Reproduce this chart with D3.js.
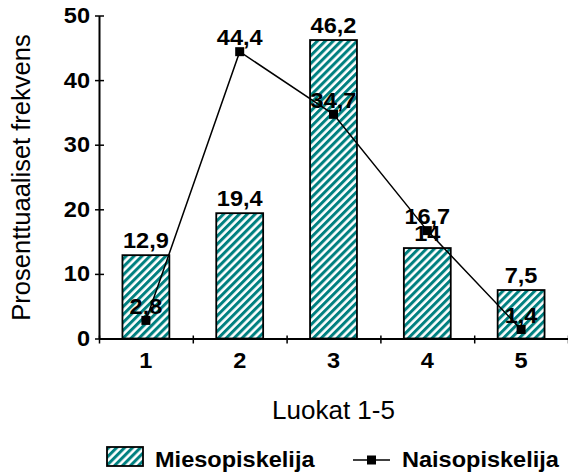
<!DOCTYPE html>
<html>
<head>
<meta charset="utf-8">
<script src="https://cdnjs.cloudflare.com/ajax/libs/d3/7.8.5/d3.min.js"></script>
<style>
  html, body { margin: 0; padding: 0; background: #fff; }
  svg { display: block; }
  text { font-family: "Liberation Sans", Arial, sans-serif; fill: #000; }
</style>
</head>
<body>
<svg id="chart" width="568" height="475"></svg>
<script>
// Luokkien jakauma sukupuolen mukaan
const categories = ["1", "2", "3", "4", "5"];
const miesValues = [12.9, 19.4, 46.2, 14, 7.5];
const naisValues = [2.8, 44.4, 34.7, 16.7, 1.4];
const yTicks = [0, 10, 20, 30, 40, 50];
const seriesNames = ["Miesopiskelija", "Naisopiskelija"];
const yTitle = "Prosenttuaaliset frekvens";
const xTitle = "Luokat 1-5";

const teal = "#008080";
const fmt = v => String(v).replace(".", ",");
const boldSize = 22;
const stretch = 1.07;   // slightly wide lettering

const svg = d3.select("#chart");

// hatch fill for the bars
const defs = svg.append("defs");
const pat = defs.append("pattern")
  .attr("id", "hatch")
  .attr("patternUnits", "userSpaceOnUse")
  .attr("width", 5.6).attr("height", 5.6)
  .attr("patternTransform", "rotate(45)");
pat.append("rect").attr("width", 5.6).attr("height", 5.6).attr("fill", "#fff");
pat.append("rect").attr("width", 3).attr("height", 5.6).attr("fill", teal);

const plot = { left: 99, right: 568, top: 15.5, bottom: 338.5 };

const x = d3.scaleBand()
  .domain(categories)
  .range([plot.left, plot.right])
  .paddingInner(0.5)
  .paddingOuter(0.25);

const y = d3.scaleLinear()
  .domain([0, 50])
  .range([plot.bottom, plot.top]);

const xEdge = d3.scaleLinear()
  .domain([0, categories.length])
  .range([plot.left, plot.right]);

// bold label placed at (px, py), widened horizontally
function boldLabel(g, px, py, str, anchor) {
  return g.append("text")
    .attr("transform", `translate(${px},${py}) scale(${stretch},1)`)
    .attr("text-anchor", anchor || "middle")
    .attr("font-size", boldSize).attr("font-weight", "bold")
    .text(str);
}

// bars
svg.append("g").selectAll("rect")
  .data(miesValues)
  .join("rect")
  .attr("x", (d, i) => x(categories[i]))
  .attr("y", d => y(d))
  .attr("width", x.bandwidth())
  .attr("height", d => y(0) - y(d))
  .attr("fill", "url(#hatch)")
  .attr("stroke", "#000")
  .attr("stroke-width", 1.8);

// y axis
const yAxis = svg.append("g")
  .attr("transform", `translate(${plot.left},0)`)
  .call(d3.axisLeft(y).tickValues(yTicks).tickSize(4).tickSizeOuter(0).tickFormat(""));
yAxis.select(".domain").attr("stroke-width", 2);
yAxis.selectAll(".tick line").attr("x1", 5).attr("x2", -4).attr("stroke-width", 1.5);
const yLab = svg.append("g");
yTicks.forEach(t => boldLabel(yLab, 90, y(t) + 7.5, String(t), "end"));

// x axis: boundary ticks
const xAxis = svg.append("g")
  .attr("transform", `translate(0,${plot.bottom})`)
  .call(d3.axisBottom(xEdge).tickValues(d3.range(categories.length + 1)).tickSize(5).tickSizeOuter(0).tickFormat(""));
xAxis.select(".domain").attr("stroke-width", 2);
xAxis.selectAll(".tick line").attr("y1", -3).attr("y2", 5).attr("stroke-width", 1.5);

// x category labels
const xLab = svg.append("g");
categories.forEach(c => boldLabel(xLab, x(c) + x.bandwidth() / 2, 367.5, c));

// line series
const cx = (d, i) => x(categories[i]) + x.bandwidth() / 2;
const line = d3.line().x(cx).y(d => y(d));
svg.append("path")
  .datum(naisValues)
  .attr("d", line)
  .attr("fill", "none")
  .attr("stroke", "#000")
  .attr("stroke-width", 1.5);

svg.append("g").selectAll("rect")
  .data(naisValues)
  .join("rect")
  .attr("x", (d, i) => cx(d, i) - 4.5)
  .attr("y", d => y(d) - 4.5)
  .attr("width", 9).attr("height", 9)
  .attr("fill", "#000");

// value labels
const barLab = svg.append("g");
miesValues.forEach((v, i) => boldLabel(barLab, cx(v, i), y(v) - 7, fmt(v)));
const lineLab = svg.append("g");
naisValues.forEach((v, i) => boldLabel(lineLab, cx(v, i), y(v) - 6.5, fmt(v)));

// axis titles
svg.append("text")
  .attr("transform", `translate(30,177.5) rotate(-90)`)
  .attr("text-anchor", "middle")
  .attr("font-size", 25.5)
  .text(yTitle);

svg.append("text")
  .attr("x", (plot.left + plot.right) / 2)
  .attr("y", 419)
  .attr("text-anchor", "middle")
  .attr("font-size", 26)
  .text(xTitle);

// legend
const lg = svg.append("g");
lg.append("rect")
  .attr("x", 107).attr("y", 447).attr("width", 36).attr("height", 19)
  .attr("fill", "url(#hatch)").attr("stroke", "#000").attr("stroke-width", 1.8);
boldLabel(lg, 155, 466.5, seriesNames[0], "start");
lg.append("line")
  .attr("x1", 353).attr("x2", 390).attr("y1", 460).attr("y2", 460)
  .attr("stroke", "#000").attr("stroke-width", 1.5);
lg.append("rect")
  .attr("x", 371.5 - 4.5).attr("y", 460 - 4.5).attr("width", 9).attr("height", 9)
  .attr("fill", "#000");
boldLabel(lg, 402, 466.5, seriesNames[1], "start");
</script>
</body>
</html>
